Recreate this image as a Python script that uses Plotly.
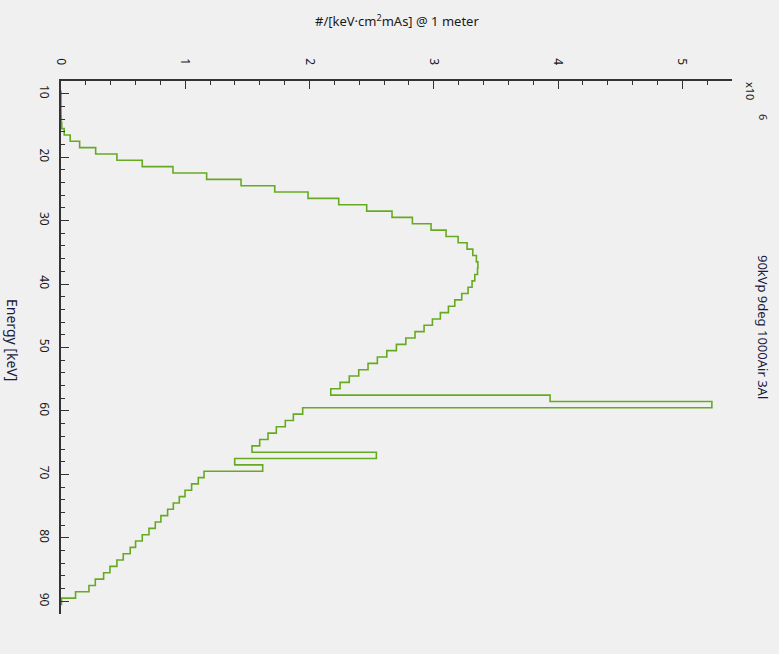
import plotly.graph_objects as go

# Photon fluence spectrum, 1 keV bins (bin centres in keV)
energy_kev = list(range(10, 91))

# Fluence per bin, in units of 10^6 photons / (keV*cm^2*mAs) at 1 m
flux_e6 = [
    0.000, 0.000, 0.000, 0.000, 0.002, 0.006, 0.026, 0.074, 0.150, 0.279,  # 10-19
    0.450, 0.654, 0.901, 1.172, 1.449, 1.720, 1.988, 2.235, 2.460, 2.664,  # 20-29
    2.828, 2.978, 3.099, 3.196, 3.268, 3.314, 3.343, 3.355, 3.352, 3.330,  # 30-39
    3.308, 3.276, 3.225, 3.169, 3.118, 3.053, 2.989, 2.922, 2.849, 2.775,  # 40-49
    2.699, 2.622, 2.546, 2.471, 2.396, 2.320, 2.246, 2.171, 3.936, 5.238,  # 50-59
    1.945, 1.870, 1.805, 1.733, 1.666, 1.599, 1.537, 2.538, 1.398, 1.623,  # 60-69
    1.151, 1.105, 1.051, 0.998, 0.952, 0.904, 0.858, 0.804, 0.759, 0.708,  # 70-79
    0.654, 0.600, 0.557, 0.501, 0.450, 0.394, 0.343, 0.276, 0.225, 0.117,  # 80-89
    0.004,                                                                 # 90
]

x_ticks = [0, 1, 2, 3, 4, 5]
y_ticks = [10, 20, 30, 40, 50, 60, 70, 80, 90]

spectrum_title = "90kVp 9deg 1000Air 3Al"
value_title = "#/[keV·cm<sup>2</sup>mAs] @ 1 meter"
energy_title = "Energy [keV]"

# Step outline: each bin is a vertical run from its lower to upper edge
bin_width = 1.0
edges = [e - bin_width / 2 for e in energy_kev] + [energy_kev[-1] + bin_width / 2]
step_x = flux_e6 + [0.0]

BG = "#f0f0f0"
AXIS = "#333333"
TXT = "#1a1a1a"
FONT = "Noto Sans"

fig = go.Figure()
fig.add_trace(go.Scatter(
    x=step_x, y=edges, mode="lines", line_shape="vh",
    line=dict(color="#66aa22", width=1.6),
    hoverinfo="skip", showlegend=False,
))

fig.update_layout(
    width=779, height=654, autosize=False,
    margin=dict(l=61, r=47, t=81, b=40),
    paper_bgcolor=BG, plot_bgcolor=BG,
    font=dict(family=FONT, size=11, color=TXT),
    showlegend=False,
)

fig.update_xaxes(
    side="top", range=[0, 5.4],
    tickvals=x_ticks, ticktext=[str(v) for v in x_ticks],
    tickangle=90, tickfont=dict(size=12, color=TXT, family=FONT),
    ticklabelstandoff=10,
    ticks="inside", ticklen=8, tickwidth=1.3, tickcolor=AXIS,
    minor=dict(ticks="inside", dtick=0.2, tick0=0, ticklen=4, tickwidth=1.2, tickcolor=AXIS, showgrid=False),
    showline=True, linecolor=AXIS, linewidth=1.5, mirror=False,
    showgrid=False, zeroline=False,
)
fig.update_yaxes(
    range=[92, 8],
    tickvals=y_ticks, ticktext=[str(v) for v in y_ticks],
    tickangle=90, tickfont=dict(size=12, color=TXT, family=FONT),
    ticklabelstandoff=5,
    ticks="inside", ticklen=8, tickwidth=1.3, tickcolor=AXIS,
    minor=dict(ticks="inside", dtick=2, tick0=10, ticklen=4, tickwidth=1.2, tickcolor=AXIS, showgrid=False),
    showline=True, linecolor=AXIS, linewidth=1.5, mirror=False,
    showgrid=False, zeroline=False,
)

plot_w = 779 - 61 - 47
plot_h = 654 - 81 - 40


def px_to_paper(px, py):
    return (px - 61) / plot_w, (654 - 40 - py) / plot_h


annotations = []
ax, ay = px_to_paper(397, 21)
annotations.append(dict(text=value_title, x=ax, y=ay, xref="paper", yref="paper",
                        showarrow=False, xanchor="center", yanchor="middle",
                        font=dict(size=13, color=TXT, family=FONT)))
ax, ay = px_to_paper(13, 340)
annotations.append(dict(text=energy_title, x=ax, y=ay, xref="paper", yref="paper",
                        showarrow=False, textangle=90, xanchor="center", yanchor="middle",
                        font=dict(size=14, color="#1a1a40", family=FONT)))
ax, ay = px_to_paper(763, 327)
annotations.append(dict(text=spectrum_title, x=ax, y=ay, xref="paper", yref="paper",
                        showarrow=False, textangle=90, xanchor="center", yanchor="middle",
                        font=dict(size=13, color="#1a1a40", family=FONT)))
ax, ay = px_to_paper(750, 91)
annotations.append(dict(text="x10", x=ax, y=ay, xref="paper", yref="paper",
                        showarrow=False, textangle=90, xanchor="center", yanchor="middle",
                        font=dict(size=11, color=TXT, family=FONT)))
ax, ay = px_to_paper(764, 117)
annotations.append(dict(text="6", x=ax, y=ay, xref="paper", yref="paper",
                        showarrow=False, textangle=90, xanchor="center", yanchor="middle",
                        font=dict(size=11, color=TXT, family=FONT)))
fig.update_layout(annotations=annotations)

fig.write_html("out.html")
